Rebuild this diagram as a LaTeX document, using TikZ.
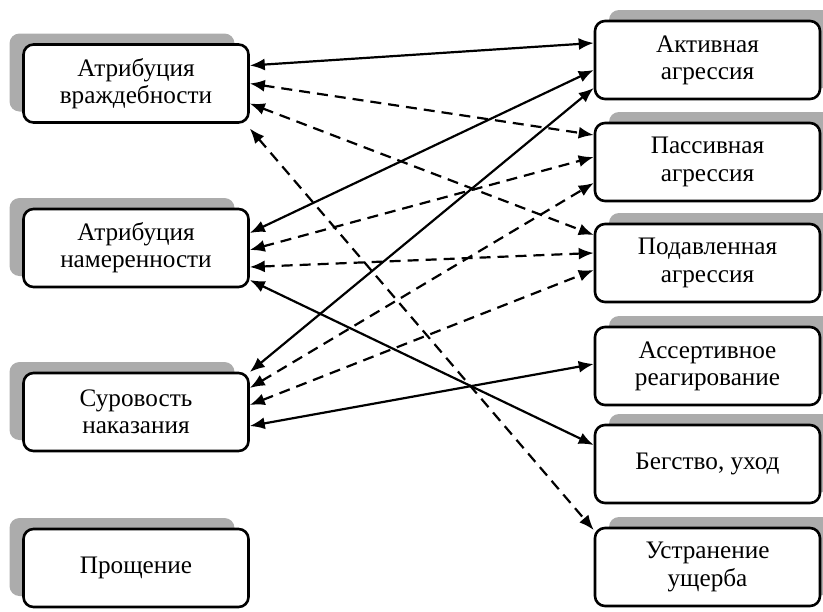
\documentclass[tikz,border=0pt]{standalone}
\usepackage{fontspec}
\setmainfont{Liberation Serif}
\usetikzlibrary{calc,shadows,arrows.meta}

\tikzset{
  box/.style={draw, line width=1.3pt, rounded corners=5pt, fill=white,
    minimum width=112.5pt, minimum height=39pt, align=center,
    font=\fontsize{12.6}{13.6}\selectfont},
  lshadow/.style={general shadow={fill=gray!65, shadow xshift=-7pt, shadow yshift=5.5pt}},
  rshadow/.style={general shadow={fill=gray!65, shadow xshift=7pt, shadow yshift=5.5pt}},
  link/.style={{Latex[length=7.5pt,width=6pt]}-{Latex[length=7.5pt,width=6pt]}, line width=1.1pt},
  dlink/.style={link, dash pattern=on 5.5pt off 3.5pt},
}

\begin{document}
\begin{tikzpicture}[x=0.5pt,y=-0.5pt]
  \useasboundingbox (0,0) rectangle (823,611);

  %% Left column: attributions
  \foreach \name/\y/\txt in {L1/83.5/{Атрибуция\\враждебности},
                             L2/248/{Атрибуция\\намеренности},
                             L3/412/{Суровость\\наказания},
                             L4/568/{Прощение}}
  {
    \node[box,lshadow] (\name) at (136,\y) {\txt};
  }

  %% Right column: reactions
  \foreach \name/\y/\txt in {R1/60/{Активная\\агрессия},
                             R2/162/{Пассивная\\агрессия},
                             R3/263/{Подавленная\\агрессия},
                             R4/366/{Ассертивное\\реагирование},
                             R5/464/{Бегство, уход},
                             R6/567/{Устранение\\ущерба}}
  {
    \node[box,rshadow] (\name) at (707.5,\y) {\txt};
  }

  %% Solid links
  \foreach \a/\da/\b/\db in {L1/-18/R1/-17, L2/-15/R1/10, L3/-40/R1/28,
                             L2/32/R5/-19, L3/14/R4/-2}
  {
    \draw[link] ($(\a.east)+(0,\da)$) -- ($(\b.west)+(0,\db)$);
  }

  %% Dashed links
  \foreach \a/\da/\b/\db in {L1/0/R2/-27, L1/20/R3/-28, L1/45/R6/-37,
                             L2/2/R2/-5, L2/19/R3/-10,
                             L3/-24/R2/21, L3/-7/R3/7}
  {
    \draw[dlink] ($(\a.east)+(0,\da)$) -- ($(\b.west)+(0,\db)$);
  }
\end{tikzpicture}
\end{document}
